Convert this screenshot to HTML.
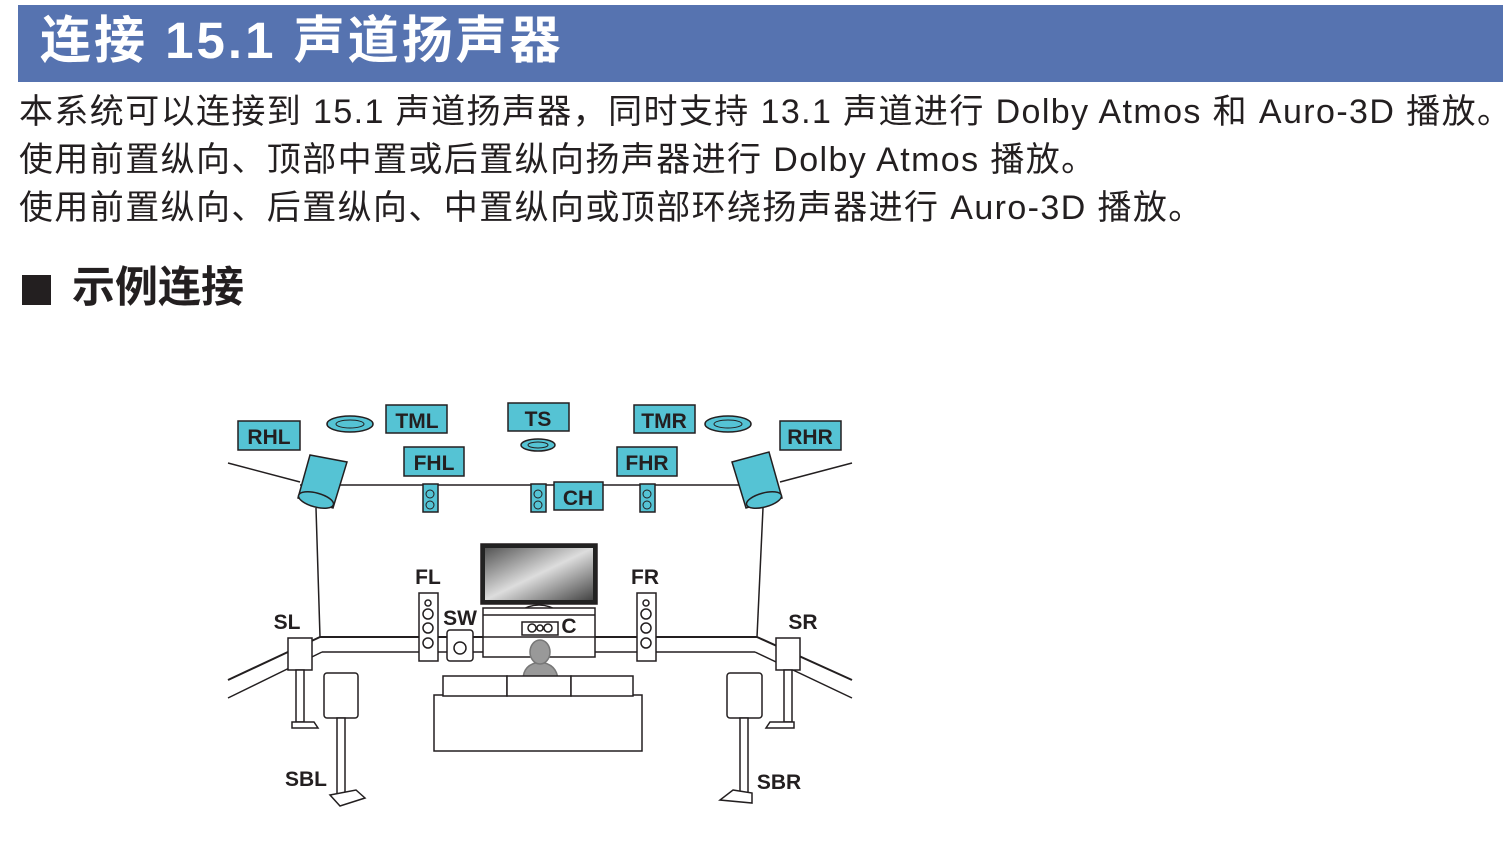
<!DOCTYPE html>
<html><head><meta charset="utf-8"><style>
body{margin:0;width:1503px;height:846px;background:#fff;position:relative;overflow:hidden;font-family:"Liberation Sans","Noto Sans CJK SC",sans-serif;}
.bar{position:absolute;left:18px;top:5px;width:1485px;height:77px;background:#5673b0;}
.title{position:absolute;left:40px;top:6px;font-size:51px;font-weight:bold;color:#fff;white-space:nowrap;line-height:70px;letter-spacing:3px;}
.p{position:absolute;left:19px;font-size:34px;letter-spacing:1.4px;color:#231f20;white-space:nowrap;line-height:40px;}
.sq{position:absolute;left:22px;top:275px;width:29px;height:30px;background:#231f20;}
.h{position:absolute;left:72px;top:262px;font-size:43px;font-weight:bold;color:#231f20;white-space:nowrap;line-height:52px;}
svg{position:absolute;left:0;top:0;}
</style></head><body>
<div class="bar"></div>
<div class="title">连接 15.1 声道扬声器</div>
<div class="p" style="top:92px">本系统可以连接到 15.1 声道扬声器，同时支持 13.1 声道进行 Dolby Atmos 和 Auro-3D 播放。</div>
<div class="p" style="top:140px">使用前置纵向、顶部中置或后置纵向扬声器进行 Dolby Atmos 播放。</div>
<div class="p" style="top:188px">使用前置纵向、后置纵向、中置纵向或顶部环绕扬声器进行 Auro-3D 播放。</div>
<div class="sq"></div>
<div class="h">示例连接</div>
<svg width="1503" height="846" viewBox="0 0 1503 846">
<defs><linearGradient id="g" x1="0" y1="0" x2="1" y2="1"><stop offset="0" stop-color="#555"/><stop offset="0.5" stop-color="#ddd"/><stop offset="1" stop-color="#444"/></linearGradient></defs>
<g stroke="#231f20" stroke-width="1.5" fill="none">
<line x1="228" y1="463" x2="300" y2="482"/><line x1="300" y1="485" x2="760" y2="485"/><line x1="780" y1="482" x2="852" y2="463"/>
<line x1="316" y1="508" x2="320" y2="637"/><line x1="763" y1="508" x2="757" y2="637"/>
<line x1="320" y1="637" x2="757" y2="637" stroke-width="2"/><line x1="322" y1="652" x2="755" y2="652"/>
<line x1="320" y1="637" x2="228" y2="680" stroke-width="2"/><line x1="322" y1="652" x2="228" y2="698"/>
<line x1="757" y1="637" x2="852" y2="680" stroke-width="2"/><line x1="755" y1="652" x2="852" y2="698"/>
</g>
<g fill="#55c3d4" stroke="#231f20" stroke-width="1.5">
<ellipse cx="350" cy="424" rx="23" ry="8"/><ellipse cx="728" cy="424" rx="23" ry="8"/><ellipse cx="538" cy="445" rx="17" ry="6"/>
<path d="M310 455 L347 462 L333 508 L298 498 Z"/><ellipse cx="316" cy="500" rx="18" ry="7" transform="rotate(15 316 500)"/>
<path d="M732 462 L769 452 L782 498 L746 508 Z"/><ellipse cx="764" cy="500" rx="18" ry="7" transform="rotate(-15 764 500)"/>
<rect x="423" y="484" width="15" height="28"/><rect x="531" y="484" width="15" height="28"/><rect x="640" y="484" width="15" height="28"/>
<rect x="238" y="421" width="62" height="29"/><rect x="386" y="405" width="61" height="28"/><rect x="508" y="403" width="61" height="28"/>
<rect x="634" y="405" width="61" height="28"/><rect x="780" y="421" width="61" height="29"/><rect x="404" y="447" width="60" height="29"/>
<rect x="617" y="447" width="60" height="29"/><rect x="554" y="482" width="49" height="28"/>
</g>
<g fill="none" stroke="#231f20" stroke-width="1">
<ellipse cx="350" cy="424" rx="14" ry="4"/><ellipse cx="728" cy="424" rx="14" ry="4"/><ellipse cx="538" cy="445" rx="10" ry="3"/>
<circle cx="430" cy="494" r="4"/><circle cx="430" cy="505" r="4"/><circle cx="538" cy="494" r="4"/><circle cx="538" cy="505" r="4"/><circle cx="647" cy="494" r="4"/><circle cx="647" cy="505" r="4"/>
</g>
<g stroke="#231f20" stroke-width="1.5" fill="#fff">
<rect x="481" y="544" width="116" height="60" fill="#222"/><rect x="485" y="548" width="108" height="52" fill="url(#g)" stroke="none"/>
<path d="M518 612 Q539 598 560 612 Z"/>
<rect x="483" y="608" width="112" height="49"/><line x1="483" y1="615" x2="595" y2="615"/><line x1="483" y1="637" x2="595" y2="637"/>
<rect x="522" y="622" width="36" height="13"/><circle cx="532" cy="628" r="4"/><circle cx="540" cy="628" r="3"/><circle cx="548" cy="628" r="4"/>
<rect x="419" y="593" width="19" height="68"/><rect x="637" y="593" width="19" height="68"/>
<circle cx="428" cy="603" r="3"/><circle cx="428" cy="614" r="5"/><circle cx="428" cy="628" r="5"/><circle cx="428" cy="643" r="5"/>
<circle cx="646" cy="603" r="3"/><circle cx="646" cy="614" r="5"/><circle cx="646" cy="628" r="5"/><circle cx="646" cy="643" r="5"/>
<rect x="447" y="630" width="26" height="31" rx="3"/><circle cx="460" cy="648" r="6"/>
<path d="M523 680 Q523 664 540 662 Q557 664 558 680 Z" fill="#999" stroke="#777"/><ellipse cx="540" cy="652" rx="10" ry="12" fill="#999" stroke="#777"/>
<rect x="434" y="695" width="208" height="56"/><rect x="443" y="676" width="64" height="20"/><rect x="507" y="676" width="64" height="20"/><rect x="571" y="676" width="62" height="20"/>
<rect x="288" y="638" width="24" height="32"/><rect x="296" y="670" width="8" height="52"/><path d="M292 722 L314 722 L318 728 L292 728 Z"/>
<rect x="776" y="638" width="24" height="32"/><rect x="784" y="670" width="8" height="52"/><path d="M770 722 L794 722 L794 728 L766 728 Z"/>
<rect x="324" y="673" width="34" height="45" rx="3"/><rect x="337" y="718" width="8" height="78"/><path d="M330 795 L356 790 L365 798 L340 806 Z"/>
<rect x="727" y="673" width="35" height="45" rx="3"/><rect x="740" y="718" width="8" height="78"/><path d="M733 790 L752 793 L752 803 L720 800 Z"/>
</g>
<g font-family="Liberation Sans, sans-serif" font-weight="bold" font-size="21" fill="#231f20" text-anchor="middle">
<text x="269" y="444">RHL</text><text x="417" y="428">TML</text><text x="538" y="426">TS</text><text x="664" y="428">TMR</text><text x="810" y="444">RHR</text>
<text x="434" y="470">FHL</text><text x="647" y="470">FHR</text><text x="578" y="505">CH</text>
<text x="428" y="584">FL</text><text x="645" y="584">FR</text><text x="460" y="625">SW</text><text x="569" y="633">C</text>
<text x="287" y="629">SL</text><text x="803" y="629">SR</text><text x="306" y="786">SBL</text><text x="779" y="789">SBR</text>
</g>
</svg>
</body></html>
